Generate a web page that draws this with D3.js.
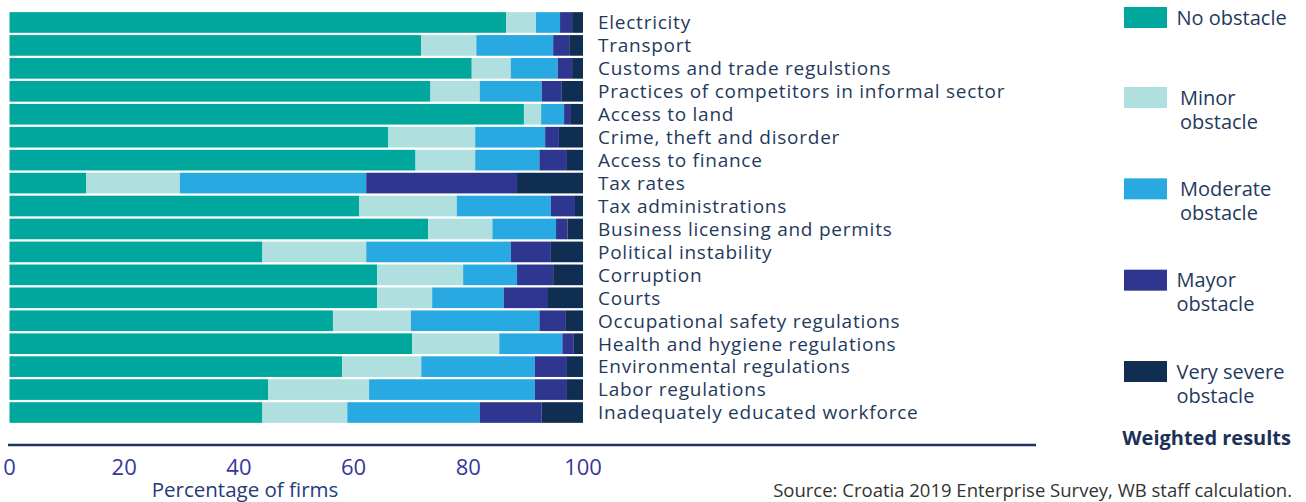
<!DOCTYPE html>
<html>
<head>
<meta charset="utf-8">
<script src="https://cdn.jsdelivr.net/npm/d3@7"></script>
<style>
  body { margin: 0; background: #fff; }
  svg { display: block; }
</style>
</head>
<body>
<svg id="chart" width="1306" height="502"></svg>
<script>
// obstacles, top to bottom
const categories = [
    "Electricity", "Transport", "Customs and trade regulstions",
    "Practices of competitors in informal sector", "Access to land",
    "Crime, theft and disorder", "Access to finance", "Tax rates",
    "Tax administrations", "Business licensing and permits",
    "Political instability", "Corruption", "Courts",
    "Occupational safety regulations", "Health and hygiene regulations",
    "Environmental regulations", "Labor regulations",
    "Inadequately educated workforce"
];
const noObstacle       = [86.6, 71.8, 80.6, 73.4, 89.7, 66.0, 70.8, 13.4, 61.0, 73.0, 44.1, 64.1, 64.1, 56.4, 70.2, 58.0, 45.1, 44.1];
const minorObstacle    = [ 5.2,  9.6,  6.8,  8.6,  3.0, 15.2, 10.4, 16.3, 17.0, 11.2, 18.1, 15.0,  9.6, 13.6, 15.2, 13.8, 17.6, 14.8];
const moderateObstacle = [ 4.2, 13.4,  8.2, 10.8,  4.0, 12.2, 11.2, 32.5, 16.4, 11.1, 25.2,  9.4, 12.5, 22.4, 11.0, 19.8, 28.9, 23.1];
const majorObstacle    = [ 2.1,  2.8,  2.5,  3.5,  1.2,  2.4,  4.8, 26.3,  4.2,  2.0,  7.0,  6.3,  7.7,  4.5,  2.0,  5.6,  5.6, 10.8];
const severeObstacle   = [ 1.9,  2.4,  1.9,  3.7,  2.1,  4.2,  2.8, 11.5,  1.4,  2.7,  5.6,  5.2,  6.1,  3.1,  1.6,  2.8,  2.8,  7.2];
const seriesNames = ["No obstacle", "Minor obstacle", "Moderate obstacle", "Mayor obstacle", "Very severe obstacle"];
const legendLines = [["No obstacle"], ["Minor", "obstacle"], ["Moderate", "obstacle"], ["Mayor", "obstacle"], ["Very severe", "obstacle"]];
const xTicks = [0, 20, 40, 60, 80, 100];

const colors = ["#00a79d", "#b0dfdf", "#29a9e1", "#2e368f", "#102e52"];
const textColor = "#1f3a5c";

const svg = d3.select("#chart");

// table for the stack
const keys = ["no", "minor", "moderate", "major", "severe"];
const table = categories.map((c, i) => ({
    cat: c,
    no: noObstacle[i],
    minor: minorObstacle[i],
    moderate: moderateObstacle[i],
    major: majorObstacle[i],
    severe: severeObstacle[i]
}));
const stacked = d3.stack().keys(keys)(table);

const x = d3.scaleLinear().domain([0, 100]).range([9.5, 583]);
const y = d3.scaleBand().domain(categories).range([11, 424]).paddingInner(0.1).paddingOuter(0.05);

// bars
svg.append("g")
    .selectAll("g")
    .data(stacked)
    .enter().append("g")
    .attr("fill", (_, i) => colors[i])
    .selectAll("rect")
    .data(d => d)
    .enter().append("rect")
    .attr("x", d => x(d[0]))
    .attr("y", d => y(d.data.cat))
    .attr("width", d => x(d[1]) - x(d[0]))
    .attr("height", y.bandwidth());

// category labels
svg.append("g")
    .selectAll("text")
    .data(categories)
    .enter().append("text")
    .attr("x", 598)
    .attr("y", d => y(d) + y.bandwidth() / 2)
    .attr("dy", "0.36em")
    .attr("font-family", "Open Sans")
    .attr("font-size", "19px")
    .attr("letter-spacing", "0.75px")
    .attr("fill", textColor)
    .text(d => d);

// axis line
svg.append("line")
    .attr("x1", 8).attr("x2", 1036)
    .attr("y1", 445).attr("y2", 445)
    .attr("stroke", "#1d3461")
    .attr("stroke-width", 2.5);

// tick labels
svg.append("g")
    .selectAll("text")
    .data(xTicks)
    .enter().append("text")
    .attr("x", d => x(d))
    .attr("y", 475)
    .attr("text-anchor", "middle")
    .attr("font-family", "Open Sans")
    .attr("font-size", "22px")
    .attr("fill", "#34389a")
    .text(d => d);

svg.append("text")
    .attr("x", 245)
    .attr("y", 497)
    .attr("text-anchor", "middle")
    .attr("font-family", "Open Sans")
    .attr("font-size", "20.5px")
    .attr("fill", "#263a7a")
    .text("Percentage of firms");

// legend: first entry sits alone at the top, the rest are evenly spaced
const legendY = d3.scalePoint().domain(seriesNames.slice(1)).range([87, 361]);
const legend = svg.append("g")
    .selectAll("g")
    .data(seriesNames)
    .enter().append("g")
    .attr("transform", (d, i) => `translate(1124, ${i === 0 ? 7 : legendY(d)})`);

legend.append("rect")
    .attr("width", 43)
    .attr("height", 21)
    .attr("fill", (_, i) => colors[i]);

legend.append("text")
    .attr("x", (_, i) => i === 1 || i === 2 ? 56 : 52.5)
    .attr("y", 17.5)
    .attr("font-family", "Open Sans")
    .attr("font-size", "20px")
    .attr("fill", textColor)
    .selectAll("tspan")
    .data((_, i) => legendLines[i])
    .enter().append("tspan")
    .attr("x", function () { return d3.select(this.parentNode).attr("x"); })
    .attr("dy", (_, j) => j === 0 ? 0 : 24)
    .text(d => d);

svg.append("text")
    .attr("x", 1291)
    .attr("y", 445)
    .attr("text-anchor", "end")
    .attr("font-family", "Open Sans")
    .attr("font-weight", "bold")
    .attr("font-size", "20px")
    .attr("fill", "#1b3158")
    .text("Weighted results");

svg.append("text")
    .attr("x", 1292)
    .attr("y", 497)
    .attr("text-anchor", "end")
    .attr("font-family", "Open Sans")
    .attr("font-size", "18.5px")
    .attr("fill", "#333")
    .text("Source: Croatia 2019 Enterprise Survey, WB staff calculation.");
</script>
</body>
</html>
